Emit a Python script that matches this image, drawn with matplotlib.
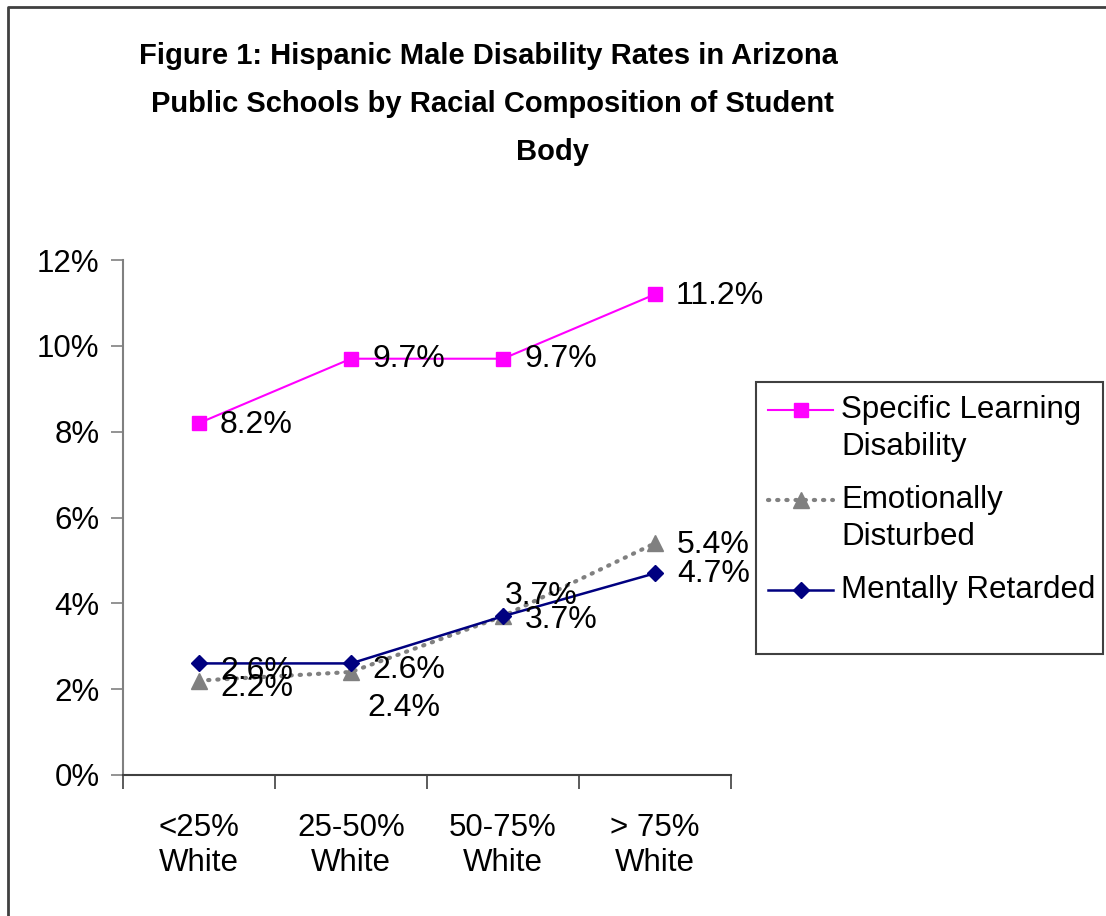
import matplotlib.pyplot as plt
from matplotlib.lines import Line2D
from matplotlib.patches import Rectangle

plt.rcParams['font.family'] = ['Liberation Sans', 'DejaVu Sans']

categories = ['<25%\nWhite', '25-50%\nWhite', '50-75%\nWhite', '> 75%\nWhite']
sld = [8.2, 9.7, 9.7, 11.2]      # Specific Learning Disability
ed = [2.2, 2.4, 3.7, 5.4]        # Emotionally Disturbed
mr = [2.6, 2.6, 3.7, 4.7]        # Mentally Retarded
yticks = [0, 2, 4, 6, 8, 10, 12]

title_lines = ['Figure 1: Hispanic Male Disability Rates in Arizona',
               'Public Schools by Racial Composition of Student',
               'Body']

# label offsets in pixels (dx, dy)
sld_off = [(21, -2), (21, 0), (21, 0), (21, -2)]
ed_off = [(21, -7), (16, -36), (2, 20), (22, -2)]
mr_off = [(21, -8), (21, -7), (22, -4), (22, -1)]

W, H = 1106, 916
fig = plt.figure(figsize=(W / 100, H / 100), dpi=100)

# overlay in pixel coords for border, title and legend
ov = fig.add_axes([0, 0, 1, 1])
ov.set_xlim(0, W)
ov.set_ylim(H, 0)
ov.axis('off')
ov.plot([8, 8, W], [H, 7, 7], color='#404040', lw=2)

title_x = [488, 492, 553]
for i, t in enumerate(title_lines):
    ov.text(title_x[i], 56 + 48 * i, t, ha='center', va='center',
            fontsize=21, fontweight='bold')

ax = fig.add_axes([123 / W, 1 - 775 / H, (731 - 123) / W, (775 - 260) / H])
x = list(range(len(categories)))

series = [
    (sld, sld_off, dict(color='#FF00FF', lw=1.5, marker='s', ms=10)),
    (ed, ed_off, dict(color='#808080', lw=3, ls=(0, (0.3, 1.9)), dash_capstyle='round',
                      marker='^', ms=11)),
    (mr, mr_off, dict(color='#000080', lw=1.8, marker='D', ms=8.5)),
]
for vals, offs, style in series:
    ax.plot(x, vals, **style)
    for xi, v, (dx, dy) in zip(x, vals, offs):
        ax.annotate(f'{v:.1f}%', (xi, v), xytext=(dx, dy), textcoords='offset pixels',
                    ha='left', va='center', fontsize=23)

ax.set_xlim(-0.5, 3.5)
ax.set_ylim(0, 12)
ax.set_yticks(yticks)
ax.set_yticklabels([f'{t}%' for t in yticks])
ax.set_xticks([-0.5, 0.5, 1.5, 2.5, 3.5])
ax.set_xticklabels([])
ax.set_xticks(x, minor=True)
ax.set_xticklabels(categories, minor=True, fontsize=22.5, linespacing=1.25)
ax.tick_params(axis='x', which='major', length=10, width=1.2, color='#404040', direction='out')
ax.tick_params(axis='x', which='minor', length=0, pad=27)
ax.tick_params(axis='y', length=9, width=1.2, color='#808080', labelsize=22.5, pad=8)
for s in ['top', 'right']:
    ax.spines[s].set_visible(False)
ax.spines['left'].set_color('#808080')
ax.spines['left'].set_linewidth(1.5)
ax.spines['bottom'].set_color('#404040')
ax.spines['bottom'].set_linewidth(1.5)
ax.set_facecolor('none')

# legend drawn by hand
ov.add_patch(Rectangle((756, 382), 347, 272, fill=False, ec='#404040', lw=1.5))
leg = [
    (['Specific Learning', 'Disability'], 410, series[0][2]),
    (['Emotionally', 'Disturbed'], 500, series[1][2]),
    (['Mentally Retarded'], 590, series[2][2]),
]
for lines, hy, style in leg:
    line_st = {k: v for k, v in style.items() if k not in ('marker', 'ms')}
    ov.add_line(Line2D([768, 833], [hy, hy], **line_st))
    ov.plot([800.5], [hy], ls='none', marker=style['marker'], ms=style['ms'],
            color=style['color'])
    for j, t in enumerate(lines):
        ov.text(841, hy + 8 + 37 * j, t, ha='left', va='baseline', fontsize=22.5)

fig.savefig('out.png', dpi=100)
